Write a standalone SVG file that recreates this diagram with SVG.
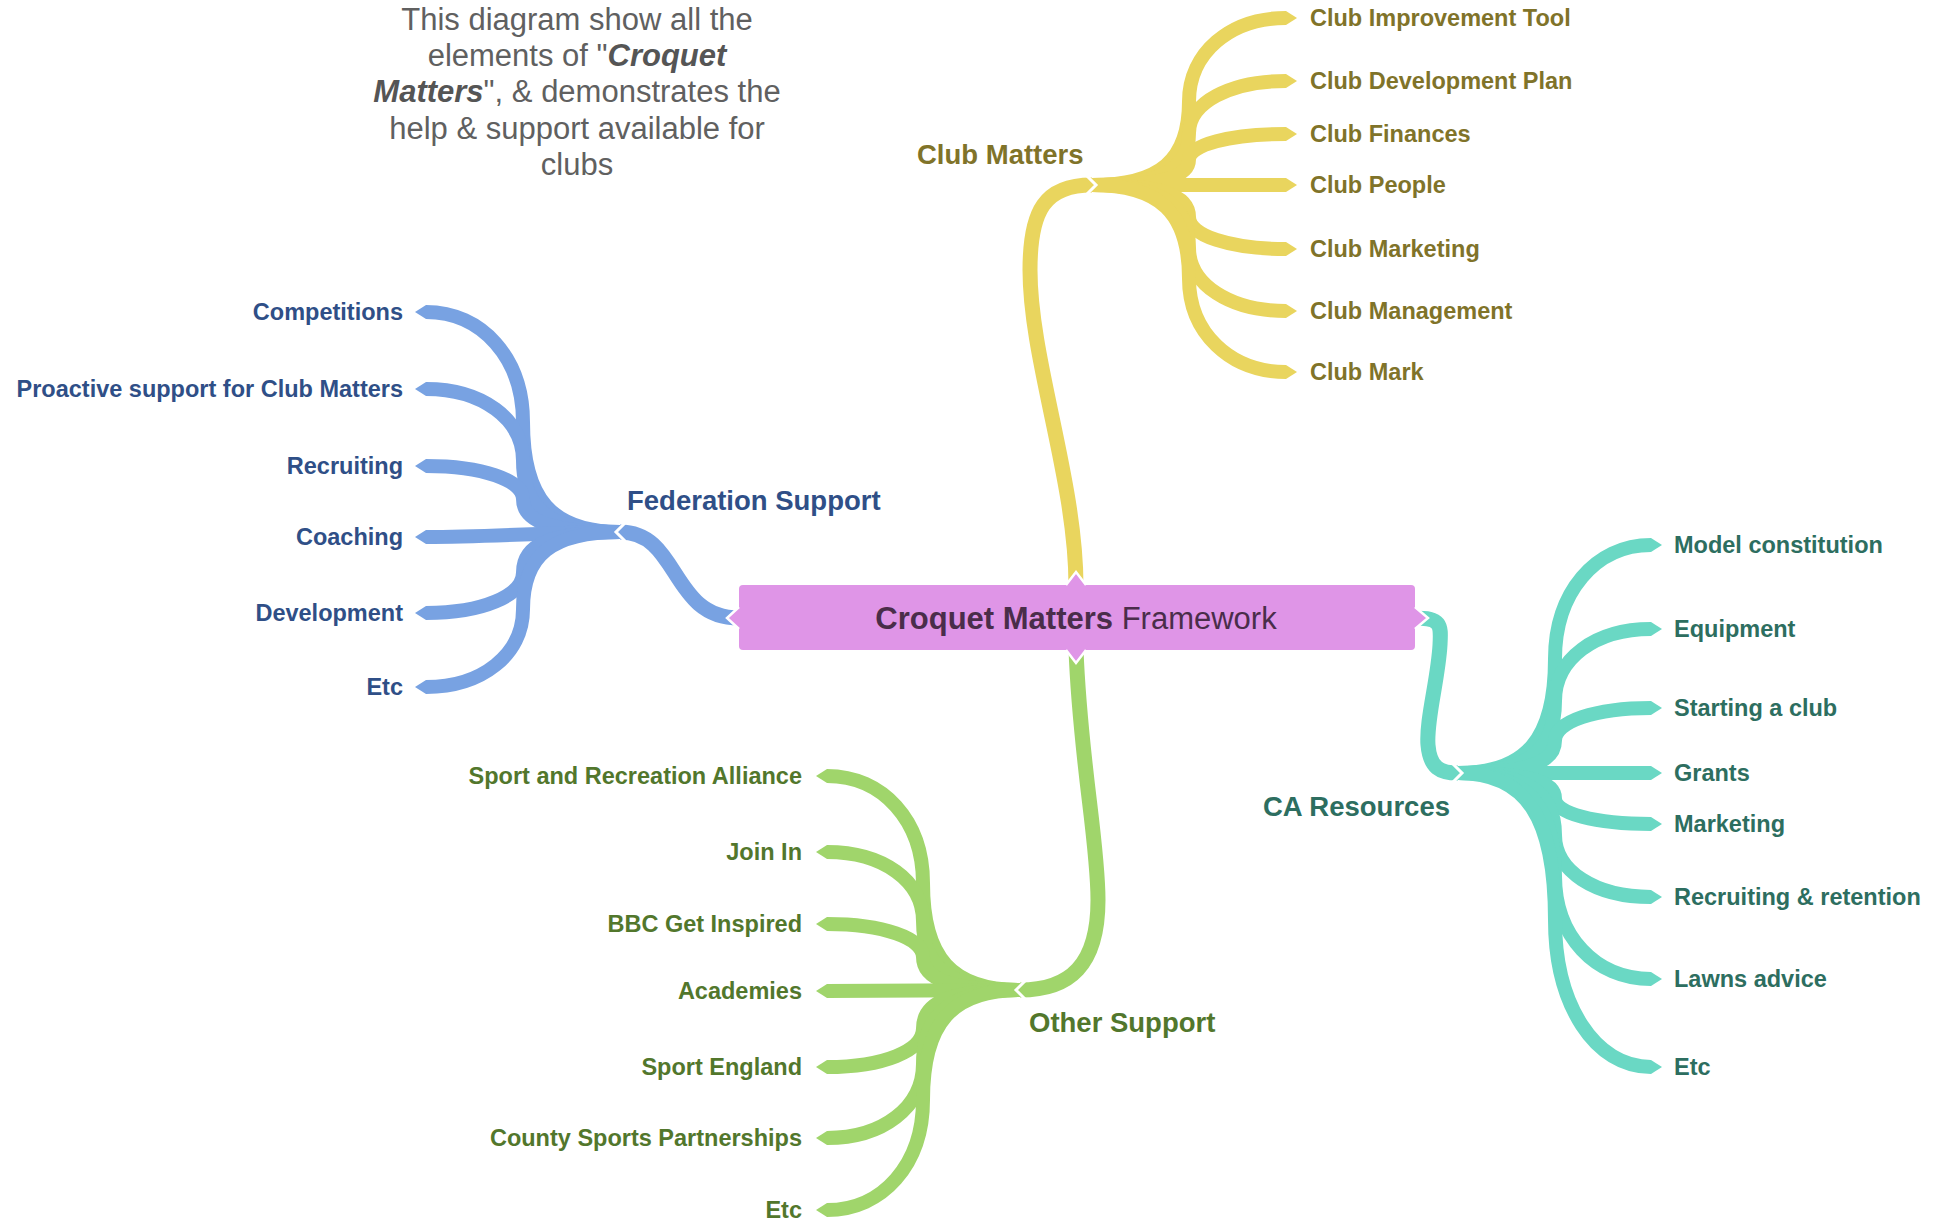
<svg xmlns="http://www.w3.org/2000/svg" width="1944" height="1222" viewBox="0 0 1944 1222">
<defs>
<style>
text{font-family:"Liberation Sans",Arial,sans-serif}
.title{font-size:31px;fill:#606060;text-anchor:middle}
.bi{font-weight:bold;font-style:italic;fill:#555}
.main{font-size:27.5px;font-weight:bold}
.leaf{font-size:23.5px;font-weight:bold}
.c{fill:none;stroke-linecap:butt}
.cy{stroke:#E9D55E}
.cb{stroke:#78A2E2}
.cg{stroke:#A0D56B}
.ct{stroke:#6AD8C4}
.trunk{stroke-width:15}
.br{stroke-width:14}
.ty{fill:#807329}
.tb{fill:#2F4F87}
.tg{fill:#52772C}
.tt{fill:#2D6E60}
.sep{fill:none;stroke:#fff;stroke-width:3;stroke-linejoin:miter}
</style>
<marker id="tipY" viewBox="0 0 11 14" refX="0" refY="7" markerWidth="11" markerHeight="14" markerUnits="userSpaceOnUse" orient="auto" preserveAspectRatio="none"><path d="M0,0 L11,7 L0,14 z" fill="#E9D55E"/></marker>
<marker id="tipB" viewBox="0 0 11 14" refX="0" refY="7" markerWidth="11" markerHeight="14" markerUnits="userSpaceOnUse" orient="auto" preserveAspectRatio="none"><path d="M0,0 L11,7 L0,14 z" fill="#78A2E2"/></marker>
<marker id="tipG" viewBox="0 0 11 14" refX="0" refY="7" markerWidth="11" markerHeight="14" markerUnits="userSpaceOnUse" orient="auto" preserveAspectRatio="none"><path d="M0,0 L11,7 L0,14 z" fill="#A0D56B"/></marker>
<marker id="tipT" viewBox="0 0 11 14" refX="0" refY="7" markerWidth="11" markerHeight="14" markerUnits="userSpaceOnUse" orient="auto" preserveAspectRatio="none"><path d="M0,0 L11,7 L0,14 z" fill="#6AD8C4"/></marker>
</defs>
<rect width="1944" height="1222" fill="#fff"/>

<g id="connectors">
  <!-- trunks -->
  <path class="c cy trunk" d="M1076,586 C1076,480 1030,360 1030,270 C1030,210 1045,185 1092,185"/>
  <path class="c cb trunk" d="M739,618 C670,618 680,532 620,532"/>
  <path class="c cg trunk" d="M1076,649 C1080,760 1098,840 1098,900 C1098,965 1070,990 1020,990"/>
  <path class="c ct trunk" d="M1414,618 C1442,618 1441,625 1440,645 C1438,680 1426,720 1428,745 C1430,768 1440,773 1458,773"/>
  <!-- Club Matters children -->
  <g class="c cy br" marker-end="url(#tipY)">
    <path d="M1092,185 C1160,185 1189,160 1189,101.5 C1189,53 1230,18 1286,18"/>
    <path d="M1092,185 C1160,185 1189,169.4 1189,133 C1189,102.8 1230,81 1286,81"/>
    <path d="M1092,185 C1160,185 1189,177.4 1189,159.5 C1189,144.7 1230,134 1286,134"/>
    <path d="M1092,185 C1160,185 1218,185 1286,185"/>
    <path d="M1092,185 C1160,185 1189,194.6 1189,217 C1189,235.6 1230,249 1286,249"/>
    <path d="M1092,185 C1160,185 1189,203.9 1189,248 C1189,284.5 1230,311 1286,311"/>
    <path d="M1092,185 C1160,185 1189,213 1189,278.5 C1189,332.7 1230,372 1286,372"/>
  </g>
  <!-- Federation Support children -->
  <g class="c cb br" marker-end="url(#tipB)">
    <path d="M620,532 C552,532 523,499 523,422 C523,358.2 482,312 426,312"/>
    <path d="M620,532 C552,532 523,510.5 523,460.5 C523,419 482,389 426,389"/>
    <path d="M620,532 C552,532 523,522 523,499 C523,480 482,466 426,466"/>
    <path d="M620,532 C552,532 494,537 426,537"/>
    <path d="M620,532 C552,532 523,544 523,572.5 C523,596 482,613 426,613"/>
    <path d="M620,532 C552,532 523,555 523,609.5 C523,654.5 482,687 426,687"/>
  </g>
  <!-- Other Support children -->
  <g class="c cg br" marker-end="url(#tipG)">
    <path d="M1020,990 C952,990 923,958 923,883 C923,821 883,776 827,776"/>
    <path d="M1020,990 C952,990 923,969 923,921 C923,881 883,852 827,852"/>
    <path d="M1020,990 C952,990 923,980 923,957 C923,938 883,924 827,924"/>
    <path d="M1020,990 C952,990 895,991 827,991"/>
    <path d="M1020,990 C952,990 923,1001.5 923,1028.5 C923,1051 883,1067 827,1067"/>
    <path d="M1020,990 C952,990 923,1012 923,1064 C923,1107 883,1138 827,1138"/>
    <path d="M1020,990 C952,990 923,1023 923,1100 C923,1164 883,1210 827,1210"/>
  </g>
  <!-- CA Resources children -->
  <g class="c ct br" marker-end="url(#tipT)">
    <path d="M1458,773 C1526,773 1555,739 1555,659 C1555,593 1595,545 1651,545"/>
    <path d="M1458,773 C1526,773 1555,751 1555,701 C1555,659 1595,629 1651,629"/>
    <path d="M1458,773 C1526,773 1555,763 1555,740.5 C1555,721.7 1595,708 1651,708"/>
    <path d="M1458,773 C1526,773 1584,773 1651,773"/>
    <path d="M1458,773 C1526,773 1555,780.6 1555,798.5 C1555,813.3 1595,824 1651,824"/>
    <path d="M1458,773 C1526,773 1555,791.6 1555,835 C1555,871 1595,897 1651,897"/>
    <path d="M1458,773 C1526,773 1555,804 1555,876 C1555,935.7 1595,979 1651,979"/>
    <path d="M1458,773 C1526,773 1555,817 1555,920 C1555,1005 1595,1067 1651,1067"/>
  </g>
  <!-- hub separators -->
  <polyline class="sep" points="1087,176 1096,185 1087,194"/>
  <polyline class="sep" points="625,523 616,532 625,541"/>
  <polyline class="sep" points="1025,981 1016,990 1025,999"/>
  <polyline class="sep" points="1453,764 1462,773 1453,782"/>
</g>

<g id="title">
  <text class="title" x="577" y="30">This diagram show all the</text>
  <text class="title" x="577" y="66">elements of "<tspan class="bi">Croquet</tspan></text>
  <text class="title" x="577" y="102"><tspan class="bi">Matters</tspan>", &amp; demonstrates the</text>
  <text class="title" x="577" y="138.5">help &amp; support available for</text>
  <text class="title" x="577" y="175">clubs</text>
</g>

<g id="node-central">
  <rect x="739" y="585" width="676" height="65" rx="4" fill="#DF95E7"/>
  <polygon points="1066,586 1076,572 1086,586" fill="#DF95E7"/>
  <polygon points="1066,649 1076,663 1086,649" fill="#DF95E7"/>
  <polygon points="740,607 727,618 740,629" fill="#DF95E7"/>
  <polygon points="1414,607 1428,618 1414,629" fill="#DF95E7"/>
  <polyline class="sep" style="stroke-width:2.5" points="1066,585 1076,572 1086,585"/>
  <polyline class="sep" style="stroke-width:2.5" points="1066,650 1076,663 1086,650"/>
  <polyline class="sep" style="stroke-width:2.5" points="739,607 727,618 739,629"/>
  <polyline class="sep" style="stroke-width:2.5" points="1415,607 1428,618 1415,629"/>
  <text x="1076" y="628.5" font-size="31" text-anchor="middle" fill="#4A2D4A"><tspan font-weight="bold">Croquet Matters</tspan> Framework</text>
</g>

<g id="node-club-matters">
  <text class="main ty" x="917" y="164">Club Matters</text>
</g>
<g id="node-club-improvement-tool"><text class="leaf ty" x="1310" y="26">Club Improvement Tool</text></g>
<g id="node-club-development-plan"><text class="leaf ty" x="1310" y="89">Club Development Plan</text></g>
<g id="node-club-finances"><text class="leaf ty" x="1310" y="142">Club Finances</text></g>
<g id="node-club-people"><text class="leaf ty" x="1310" y="193">Club People</text></g>
<g id="node-club-marketing"><text class="leaf ty" x="1310" y="257">Club Marketing</text></g>
<g id="node-club-management"><text class="leaf ty" x="1310" y="319">Club Management</text></g>
<g id="node-club-mark"><text class="leaf ty" x="1310" y="380">Club Mark</text></g>

<g id="node-federation-support">
  <text class="main tb" x="627" y="510">Federation Support</text>
</g>
<g id="node-competitions"><text class="leaf tb" x="403" y="320" text-anchor="end">Competitions</text></g>
<g id="node-proactive-support"><text class="leaf tb" x="403" y="397" text-anchor="end">Proactive support for Club Matters</text></g>
<g id="node-recruiting"><text class="leaf tb" x="403" y="474" text-anchor="end">Recruiting</text></g>
<g id="node-coaching"><text class="leaf tb" x="403" y="545" text-anchor="end">Coaching</text></g>
<g id="node-development"><text class="leaf tb" x="403" y="621" text-anchor="end">Development</text></g>
<g id="node-fed-etc"><text class="leaf tb" x="403" y="695" text-anchor="end">Etc</text></g>

<g id="node-other-support">
  <text class="main tg" x="1029" y="1032">Other Support</text>
</g>
<g id="node-sport-recreation-alliance"><text class="leaf tg" x="802" y="784" text-anchor="end">Sport and Recreation Alliance</text></g>
<g id="node-join-in"><text class="leaf tg" x="802" y="860" text-anchor="end">Join In</text></g>
<g id="node-bbc-get-inspired"><text class="leaf tg" x="802" y="932" text-anchor="end">BBC Get Inspired</text></g>
<g id="node-academies"><text class="leaf tg" x="802" y="999" text-anchor="end">Academies</text></g>
<g id="node-sport-england"><text class="leaf tg" x="802" y="1075" text-anchor="end">Sport England</text></g>
<g id="node-county-sports-partnerships"><text class="leaf tg" x="802" y="1146" text-anchor="end">County Sports Partnerships</text></g>
<g id="node-other-etc"><text class="leaf tg" x="802" y="1218" text-anchor="end">Etc</text></g>

<g id="node-ca-resources">
  <text class="main tt" x="1263" y="816">CA Resources</text>
</g>
<g id="node-model-constitution"><text class="leaf tt" x="1674" y="553">Model constitution</text></g>
<g id="node-equipment"><text class="leaf tt" x="1674" y="637">Equipment</text></g>
<g id="node-starting-a-club"><text class="leaf tt" x="1674" y="716">Starting a club</text></g>
<g id="node-grants"><text class="leaf tt" x="1674" y="781">Grants</text></g>
<g id="node-marketing"><text class="leaf tt" x="1674" y="832">Marketing</text></g>
<g id="node-recruiting-retention"><text class="leaf tt" x="1674" y="905">Recruiting &amp; retention</text></g>
<g id="node-lawns-advice"><text class="leaf tt" x="1674" y="987">Lawns advice</text></g>
<g id="node-ca-etc"><text class="leaf tt" x="1674" y="1075">Etc</text></g>
</svg>
